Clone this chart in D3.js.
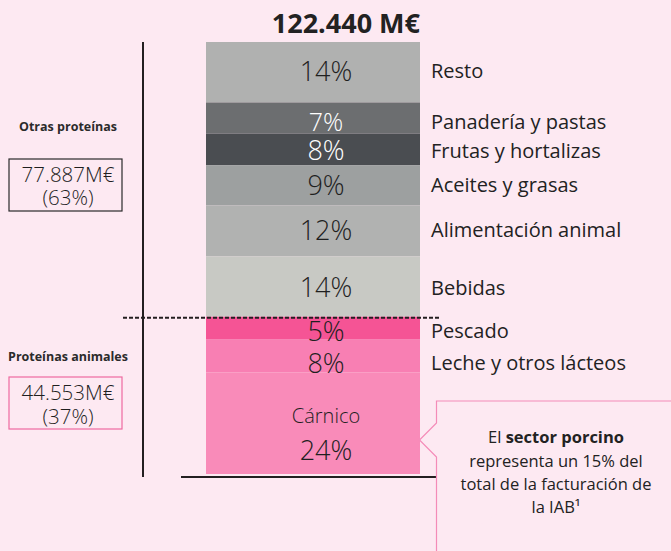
<!DOCTYPE html>
<html lang="es">
<head>
<meta charset="UTF-8">
<title>Facturación IAB</title>
<script src="https://d3js.org/d3.v7.min.js"></script>
<style>
    body { margin: 0; background: #fde9f2; }
    svg { display: block; font-family: "Open Sans", "Noto Sans", sans-serif; }
</style>
</head>
<body>
<div id="chart"></div>
<script>
// data, top to bottom of the stacked bar
var categories = ["Resto", "Panadería y pastas", "Frutas y hortalizas", "Aceites y grasas",
                  "Alimentación animal", "Bebidas", "Pescado", "Leche y otros lácteos", "Cárnico"];
var pctLabels = ["14%", "7%", "8%", "9%", "12%", "14%", "5%", "8%", "24%"];
// share of total as drawn (percent)
var shares = [14.0, 7.2, 7.3, 9.3, 11.8, 14.0, 5.3, 7.6, 23.5];
var colors = ["#b0b1b0", "#6c6e70", "#4a4d51", "#9da0a0", "#b1b2b1", "#c8c9c4", "#f55495", "#f87fb3", "#f98bb9"];
var textColors = ["#1f1f1f", "#ffffff", "#ffffff", "#1f1f1f", "#1f1f1f", "#1f1f1f", "#1f1f1f", "#1f1f1f", "#1f1f1f"];

var total = "122.440 M€";
var groups = [
    {name: "Otras proteínas", value: "77.887M€", pct: "(63%)"},
    {name: "Proteínas animales", value: "44.553M€", pct: "(37%)"}
];
var calloutLines = ["representa un 15% del", "total de la facturación de", "la IAB¹"];

var W = 671, H = 551;
var svg = d3.select("#chart").append("svg").attr("width", W).attr("height", H);
svg.append("rect").attr("width", W).attr("height", H).attr("fill", "#fde9f2");

var barX0 = 206, barX1 = 420;
var y = d3.scaleLinear().domain([0, d3.sum(shares)]).range([42, 474]);

var cum = 0;
var segs = shares.map(function(s, i) {
    var d = {i: i, y0: cum, y1: cum + s};
    cum += s;
    return d;
});

// small vertical nudges for the labels so they sit like the original
var nudge = [-1, 3.5, 1, 0, -1, 1, 3, 7, 0];

svg.selectAll("rect.seg").data(segs).enter().append("rect")
    .attr("class", "seg")
    .attr("x", barX0)
    .attr("width", barX1 - barX0)
    .attr("y", function(d) { return y(d.y0); })
    .attr("height", function(d) { return y(d.y1) - y(d.y0); })
    .attr("fill", function(d) { return colors[d.i]; });

// percentage labels (Cárnico handled separately)
var mid = function(d) { return (y(d.y0) + y(d.y1)) / 2 + nudge[d.i]; };
var inner = segs.slice(0, 8);
svg.selectAll("text.pct").data(inner).enter().append("text")
    .attr("class", "pct")
    .attr("x", 326)
    .attr("y", mid)
    .attr("dy", "0.36em")
    .attr("text-anchor", "middle")
    .attr("font-size", function(d) { return d.i == 1 ? 25 : 27; })
    .attr("font-weight", 300)
    .attr("fill", function(d) { return textColors[d.i]; })
    .text(function(d) { return pctLabels[d.i]; });

svg.selectAll("text.cat").data(inner).enter().append("text")
    .attr("class", "cat")
    .attr("x", 431)
    .attr("y", mid)
    .attr("dy", "0.36em")
    .attr("font-size", 20)
    .attr("fill", "#222")
    .text(function(d) { return categories[d.i]; });

var last = segs[8];
svg.append("text")
    .attr("x", 326).attr("y", y(last.y0) + 51)
    .attr("text-anchor", "middle")
    .attr("font-size", 20).attr("font-weight", 300).attr("fill", "#1f1f1f")
    .text(categories[8]);
svg.append("text")
    .attr("x", 326).attr("y", y(last.y0) + 88)
    .attr("text-anchor", "middle")
    .attr("font-size", 27).attr("font-weight", 300).attr("fill", "#1f1f1f")
    .text(pctLabels[8]);

// title
svg.append("text")
    .attr("x", barX1).attr("y", 33)
    .attr("text-anchor", "end")
    .attr("font-size", 27).attr("font-weight", 700).attr("fill", "#222")
    .text(total);

// axis lines
svg.append("line").attr("x1", 143).attr("x2", 143).attr("y1", 42).attr("y2", 477)
    .attr("stroke", "#231f20").attr("stroke-width", 2);
svg.append("line").attr("x1", 181).attr("x2", 440).attr("y1", 477).attr("y2", 477)
    .attr("stroke", "#231f20").attr("stroke-width", 2);
var splitY = y(d3.sum(shares.slice(0, 6)));
svg.append("line").attr("x1", 123).attr("x2", 440).attr("y1", splitY + 1).attr("y2", splitY + 1)
    .attr("stroke", "#231f20").attr("stroke-width", 2).attr("stroke-dasharray", "4,2");

// group boxes on the left
var groupPos = [
    {titleY: 131, boxY: 159, v1: 182, v2: 205, stroke: "#2b2b2b"},
    {titleY: 361, boxY: 377, v1: 400, v2: 424, stroke: "#ee6aa0"}
];
groups.forEach(function(g, i) {
    var p = groupPos[i];
    svg.append("text").attr("x", 68).attr("y", p.titleY)
        .attr("text-anchor", "middle").attr("font-size", 12.5).attr("font-weight", 700)
        .attr("fill", "#2b2b2b").text(g.name);
    svg.append("rect").attr("x", 9).attr("y", p.boxY).attr("width", 113).attr("height", 52)
        .attr("fill", "none").attr("stroke", p.stroke).attr("stroke-width", 1.2);
    svg.append("text").attr("x", 68).attr("y", p.v1)
        .attr("text-anchor", "middle").attr("font-size", 20.5).attr("font-weight", 300)
        .attr("fill", "#1f1f1f").text(g.value);
    svg.append("text").attr("x", 68).attr("y", p.v2)
        .attr("text-anchor", "middle").attr("font-size", 20.5).attr("font-weight", 300)
        .attr("fill", "#1f1f1f").text(g.pct);
});

// callout
svg.append("path")
    .attr("d", "M" + (W + 2) + ",401 L436.5,401 L436.5,423 L419.5,440 L436.5,457 L436.5," + (H + 2))
    .attr("fill", "#fde9f2").attr("stroke", "#f48bb8").attr("stroke-width", 1.2);
var ct = svg.append("text").attr("x", 556).attr("y", 443).attr("text-anchor", "middle")
    .attr("font-size", 16.5).attr("fill", "#222");
ct.append("tspan").text("El ");
ct.append("tspan").attr("font-weight", 700).text("sector porcino");
calloutLines.forEach(function(l, i) {
    svg.append("text").attr("x", 556).attr("y", 466.5 + i * 23)
        .attr("text-anchor", "middle").attr("font-size", 16.5).attr("fill", "#222")
        .text(l);
});
</script>
</body>
</html>
